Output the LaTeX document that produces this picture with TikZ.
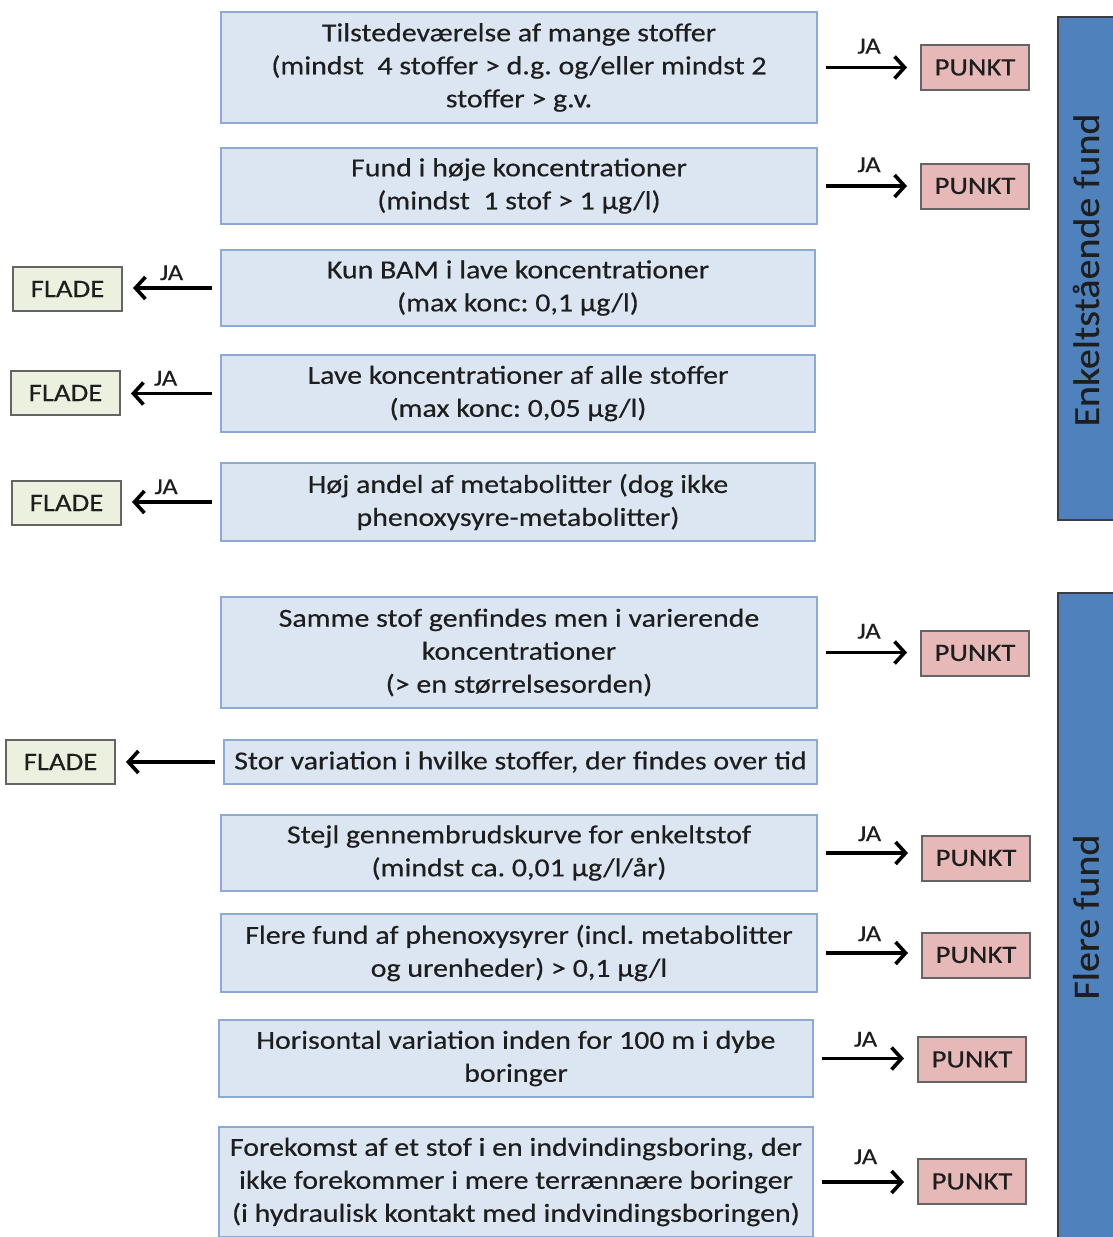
\documentclass[tikz,border=0pt]{standalone}
\usepackage{fontspec}
\setmainfont{Carlito}[FakeStretch=1.15, FakeBold=0.4]
\newfontfamily\barfont{Carlito}[FakeStretch=1.08, FakeBold=0.4]
\usetikzlibrary{arrows.meta}
\frenchspacing
\definecolor{critfill}{RGB}{220,230,242}
\definecolor{critdraw}{RGB}{140,170,210}
\definecolor{punktfill}{RGB}{230,185,184}
\definecolor{fladefill}{RGB}{235,241,222}
\definecolor{outdraw}{RGB}{100,100,100}
\definecolor{barfill}{RGB}{79,129,189}
\definecolor{bardraw}{RGB}{55,60,70}
\definecolor{ink}{RGB}{30,30,30}
\tikzset{
  crit/.style={draw=critdraw, fill=critfill, line width=1pt, align=center,
    inner sep=0pt, text=ink, font=\frenchspacing\fontsize{13pt}{16.5pt}\selectfont},
  punkt/.style={draw=outdraw, fill=punktfill, line width=1pt,
    minimum width=54pt, minimum height=22.5pt, inner sep=0pt, text=ink,
    font=\fontsize{12.5pt}{15pt}\selectfont},
  flade/.style={draw=outdraw, fill=fladefill, line width=1pt,
    minimum width=54.5pt, minimum height=22pt, inner sep=0pt, text=ink,
    font=\fontsize{12.5pt}{15pt}\selectfont},
  yes/.style={line width=1.8pt, -{Straight Barb[length=5pt,width=11pt,line width=1.8pt]},
    shorten <=4pt, shorten >=6.5pt},
  no/.style={line width=1.8pt, -{Straight Barb[length=5pt,width=11pt,line width=1.8pt]},
    shorten <=4pt, shorten >=5pt},
  ja/.style={font=\fontsize{11.5pt}{13pt}\selectfont, inner sep=1pt, text=ink},
  sidebar/.style={draw=bardraw, fill=barfill, line width=1pt},
  bartext/.style={rotate=90, text=ink, font=\barfont\fontsize{18.5pt}{22pt}\selectfont}
}
\begin{document}
\begin{tikzpicture}[x=0.5pt, y=-0.5pt]
\useasboundingbox (0,0) rectangle (1113,1237);

% criteria boxes
\node[crit, minimum width=298pt, minimum height=55.5pt] (b1) at (519,67.5)
  {Tilstedeværelse af mange stoffer\\(mindst\ \ 4 stoffer > d.g. og/eller mindst 2\\stoffer > g.v.};
\node[crit, minimum width=298pt, minimum height=38pt] (b2) at (519,186)
  {Fund i høje koncentrationer\\(mindst\ \ 1 stof > 1 µg/l)};
\node[crit, minimum width=297pt, minimum height=38pt] (b3) at (518,288)
  {Kun BAM i lave koncentrationer\\(max konc: 0,1 µg/l)};
\node[crit, minimum width=297pt, minimum height=38.5pt] (b4) at (518,393.5)
  {Lave koncentrationer af alle stoffer\\(max konc: 0,05 µg/l)};
\node[crit, minimum width=297pt, minimum height=39pt] (b5) at (518,502)
  {Høj andel af metabolitter (dog ikke\\phenoxysyre-metabolitter)};
\node[crit, minimum width=298pt, minimum height=55.5pt] (b6) at (519,652.5)
  {Samme stof genfindes men i varierende\\koncentrationer\\(> en størrelsesorden)};
\node[crit, minimum width=296.5pt, minimum height=22pt] (b7) at (520.5,762)
  {Stor variation i hvilke stoffer, der findes over tid};
\node[crit, minimum width=298pt, minimum height=38pt] (b8) at (519,853)
  {Stejl gennembrudskurve for enkeltstof\\(mindst ca. 0,01 µg/l/år)};
\node[crit, minimum width=298pt, minimum height=39pt] (b9) at (519,953)
  {Flere fund af phenoxysyrer (incl. metabolitter\\og urenheder) > 0,1 µg/l};
\node[crit, minimum width=297pt, minimum height=38.5pt] (b10) at (516,1058.5)
  {Horisontal variation inden for 100 m i dybe\\boringer};
\node[crit, minimum width=297pt, minimum height=55pt] (b11) at (516,1182)
  {Forekomst af et stof i en indvindingsboring, der\\ikke forekommer i mere terrænnære boringer\\(i hydraulisk kontakt med indvindingsboringen)};

% outcomes
\node[punkt] (p1) at (975,67.5) {PUNKT};
\node[punkt] (p2) at (975,186) {PUNKT};
\node[punkt] (p6) at (975,653) {PUNKT};
\node[punkt] (p8) at (976,858) {PUNKT};
\node[punkt] (p9) at (976,955) {PUNKT};
\node[punkt] (p10) at (972,1059.5) {PUNKT};
\node[punkt] (p11) at (972,1181.5) {PUNKT};

\node[flade] (f3) at (67.5,289) {FLADE};
\node[flade] (f4) at (65.5,393) {FLADE};
\node[flade] (f5) at (66.5,503) {FLADE};
\node[flade] (f7) at (60.5,762) {FLADE};

% connectors to PUNKT
\draw[yes] (b1.east) -- (b1.east -| p1.west) node[ja, midway, above=5pt] {JA};
\draw[yes] (b2.east) -- (b2.east -| p2.west) node[ja, midway, above=5pt] {JA};
\draw[yes] (b6.east) -- (b6.east -| p6.west) node[ja, midway, above=5pt] {JA};
\draw[yes] (b8.east) -- (b8.east -| p8.west) node[ja, midway, above=4pt] {JA};
\draw[yes] (b9.east) -- (b9.east -| p9.west) node[ja, midway, above=4pt] {JA};
\draw[yes] (b10.east) -- (b10.east -| p10.west) node[ja, midway, above=4pt] {JA};
\draw[yes] (b11.east) -- (b11.east -| p11.west) node[ja, midway, above=7pt] {JA};

% connectors to FLADE
\draw[no] (b3.west) -- (b3.west -| f3.east) node[ja, midway, above=2pt] {JA};
\draw[no] (b4.west) -- (b4.west -| f4.east) node[ja, pos=0.55, above=2pt] {JA};
\draw[no] (b5.west) -- (b5.west -| f5.east) node[ja, pos=0.55, above=2pt] {JA};
\draw[no] (b7.west) -- (b7.west -| f7.east);

% group bars on the right
\draw[sidebar] (1058,17) rectangle (1125,520);
\draw[sidebar] (1058,593) rectangle (1125,1250);
\node[bartext] (t1) at (1086,270) {Enkeltstående fund};
\node[bartext] (t2) at (1086,917) {Flere fund};
\end{tikzpicture}
\end{document}
